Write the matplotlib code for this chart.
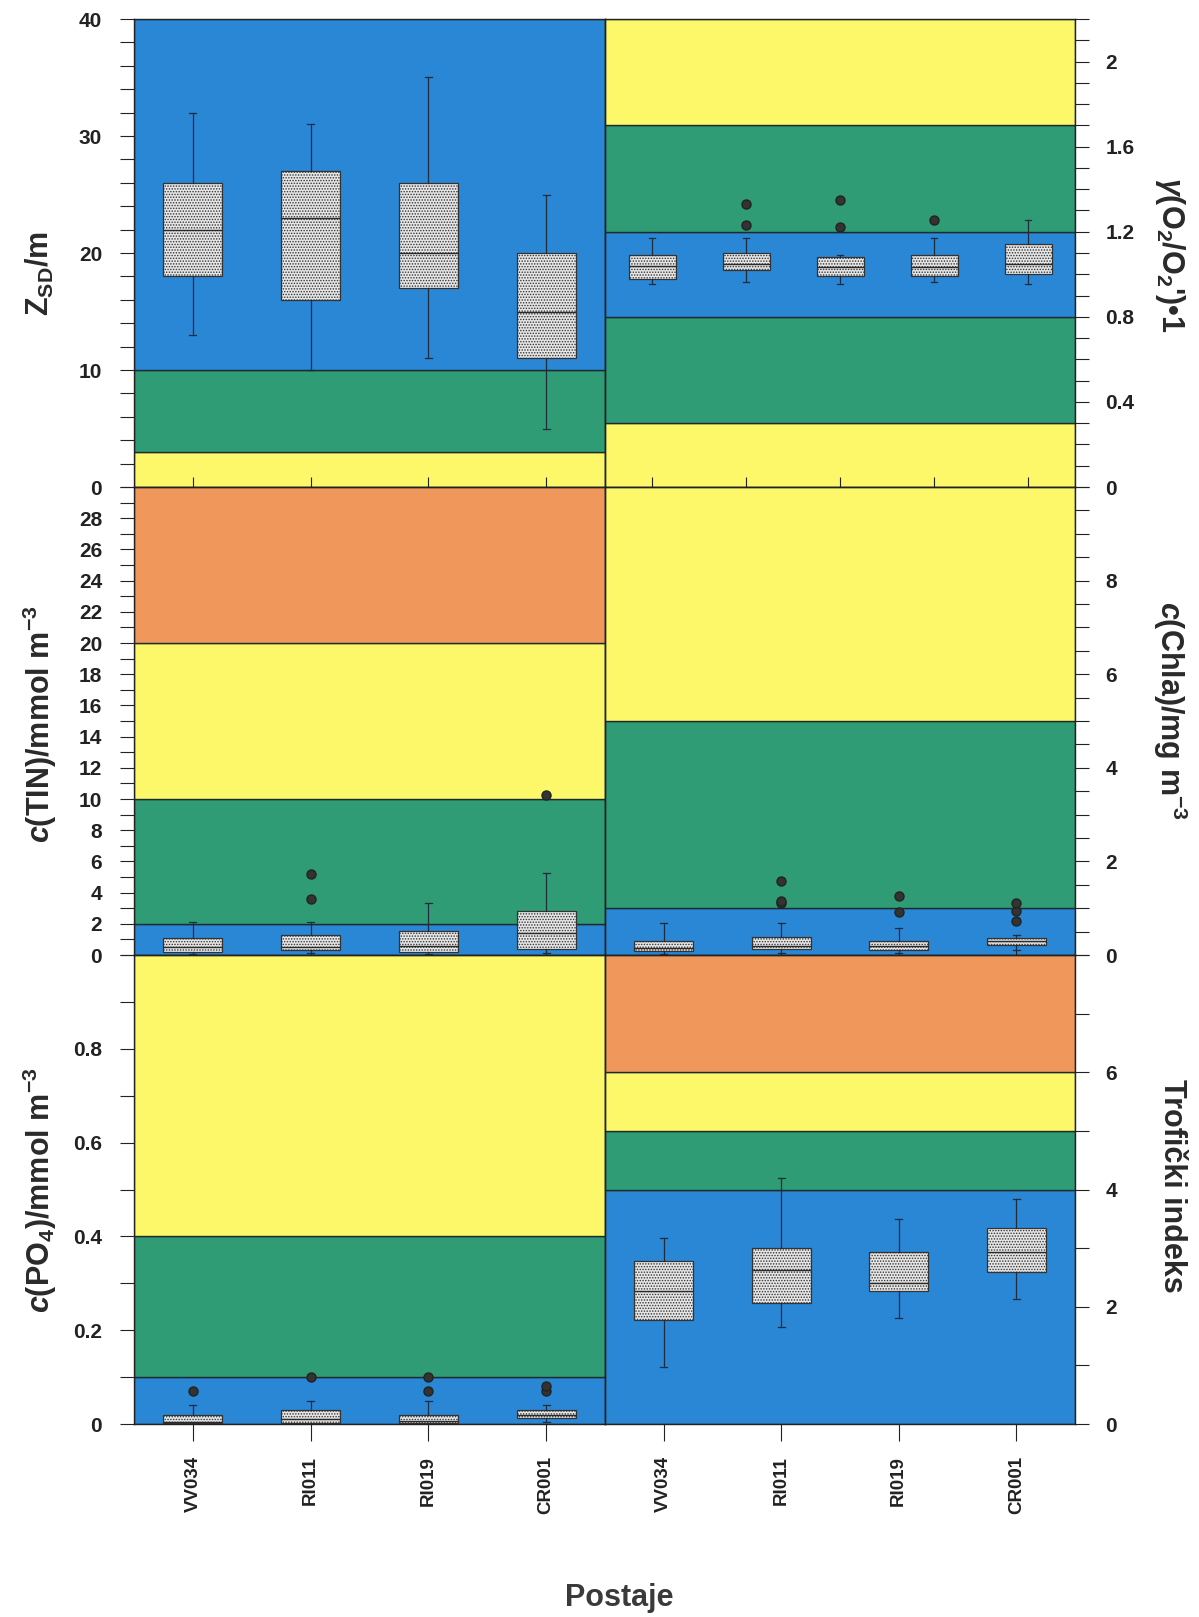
import matplotlib.pyplot as plt
from matplotlib.ticker import MultipleLocator, FormatStrFormatter

plt.rcParams['font.family'] = ['Liberation Sans', 'DejaVu Sans']
plt.rcParams['font.weight'] = 'bold'
plt.rcParams['mathtext.fontset'] = 'custom'
plt.rcParams['mathtext.rm'] = 'Liberation Sans:bold'
plt.rcParams['mathtext.it'] = 'Liberation Sans:italic:bold'
plt.rcParams['mathtext.bf'] = 'Liberation Sans:bold'
plt.rcParams['mathtext.default'] = 'rm'
plt.rcParams['hatch.linewidth'] = 0.7

stations = ['VV034', 'RI011', 'RI019', 'CR001']

# Secchi depth (m)
zsd_lo = [13, 10, 11, 5]
zsd_q1 = [18, 16, 17, 11]
zsd_med = [22, 23, 20, 15]
zsd_q3 = [26, 27, 26, 20]
zsd_hi = [32, 31, 35, 25]
zsd_out = [[], [], [], []]

# oxygen saturation, five boxes
o2_lo = [0.954, 0.963, 0.954, 0.963, 0.954]
o2_q1 = [0.98, 1.02, 0.993, 0.993, 1.002]
o2_med = [1.037, 1.05, 1.034, 1.034, 1.05]
o2_q3 = [1.09, 1.10, 1.08, 1.09, 1.142]
o2_hi = [1.17, 1.17, 1.09, 1.17, 1.253]
o2_out = [[], [1.23, 1.33], [1.22, 1.35], [1.253], []]

# total inorganic nitrogen
tin_lo = [0.05, 0.1, 0.05, 0.1]
tin_q1 = [0.17, 0.32, 0.21, 0.38]
tin_med = [0.49, 0.49, 0.6, 1.43]
tin_q3 = [1.07, 1.28, 1.54, 2.84]
tin_hi = [2.14, 2.14, 3.35, 5.23]
tin_out = [[], [3.57, 5.17], [], [10.26]]

# chlorophyll a
chla_lo = [0.03, 0.05, 0.04, 0.1]
chla_q1 = [0.086, 0.12, 0.10, 0.21]
chla_med = [0.15, 0.2, 0.2, 0.3]
chla_q3 = [0.30, 0.39, 0.30, 0.36]
chla_hi = [0.69, 0.68, 0.57, 0.43]
chla_out = [[], [1.12, 1.15, 1.59], [0.91, 1.26], [0.73, 0.93, 1.12]]

# phosphate
po4_lo = [0.0, 0.0, 0.0, 0.005]
po4_q1 = [0.002, 0.002, 0.002, 0.012]
po4_med = [0.005, 0.01, 0.006, 0.02]
po4_q3 = [0.019, 0.03, 0.019, 0.03]
po4_hi = [0.04, 0.05, 0.05, 0.04]
po4_out = [[0.07], [0.10], [0.07, 0.10], [0.07, 0.08]]

# trophic index
trix_lo = [0.97, 1.66, 1.81, 2.13]
trix_q1 = [1.77, 2.07, 2.27, 2.60]
trix_med = [2.27, 2.63, 2.41, 2.94]
trix_q3 = [2.78, 3.01, 2.94, 3.34]
trix_hi = [3.18, 4.19, 3.50, 3.84]
trix_out = [[], [], [], []]

blue = '#2a87d6'
green = '#309c76'
yellow = '#fdf76a'
orange = '#f0975b'

zsd_edges = [0, 3, 10, 40]
zsd_cols = [yellow, green, blue]
o2_edges = [0, 0.3, 0.8, 1.2, 1.7, 2.2]
o2_cols = [yellow, green, blue, green, yellow]
tin_edges = [0, 2, 10, 20, 30]
tin_cols = [blue, green, yellow, orange]
chla_edges = [0, 1, 5, 10]
chla_cols = [blue, green, yellow]
po4_edges = [0, 0.1, 0.4, 1.0]
po4_cols = [blue, green, yellow]
trix_edges = [0, 4, 5, 6, 8]
trix_cols = [blue, green, yellow, orange]


def make_stats(lo, q1, med, q3, hi, out):
    return [dict(whislo=a, q1=b, med=c, q3=d, whishi=e, fliers=f)
            for a, b, c, d, e, f in zip(lo, q1, med, q3, hi, out)]


def panel(ax, stats, edges, cols, minor, labelled, side):
    for y0, y1, c in zip(edges[:-1], edges[1:], cols):
        ax.axhspan(y0, y1, facecolor=c, edgecolor='#1e2b2b', lw=1.0, zorder=0)
    n = len(stats)
    bp = ax.bxp(stats, positions=range(1, n + 1), widths=0.5, patch_artist=True,
                showfliers=True, capwidths=0.06,
                boxprops=dict(facecolor='#e6e6e6', edgecolor='#333333', lw=0.9, hatch='......'),
                medianprops=dict(color='#2a2a2a', lw=1.0),
                whiskerprops=dict(color='#1f2d3a', lw=0.9),
                capprops=dict(color='#1f2d3a', lw=0.9),
                flierprops=dict(marker='o', markerfacecolor='#333333',
                                markeredgecolor='#222222', markersize=6.5))
    for k in bp:
        for a in bp[k]:
            a.set_zorder(3)
    ax.set_xlim(0.5, n + 0.5)
    ax.set_ylim(edges[0], edges[-1])
    ax.set_yticks(labelled)
    ax.yaxis.set_major_formatter(FormatStrFormatter('%g'))
    ax.yaxis.set_minor_locator(MultipleLocator(minor))
    if side == 'right':
        ax.yaxis.tick_right()
        pad = 12
    else:
        pad = 13
    ax.tick_params(axis='y', which='both', direction='out', length=10, width=0.8,
                   pad=pad, labelsize=15, colors='#222222')
    for s in ax.spines.values():
        s.set_color('#222222')
        s.set_linewidth(1.0)
        s.set_zorder(4)


fig = plt.figure(figsize=(11.99, 16.17), dpi=100)
W, H = 1199, 1617
xl, xm, xr = 134, 605, 1075
rows = [(19, 487), (487, 955), (955, 1424)]


def add_ax(x0, x1, r):
    t, b = rows[r]
    return fig.add_axes([x0 / W, 1 - b / H, (x1 - x0) / W, (b - t) / H])


ax1 = add_ax(xl, xm, 0)
ax2 = add_ax(xm, xr, 0)
ax3 = add_ax(xl, xm, 1)
ax4 = add_ax(xm, xr, 1)
ax5 = add_ax(xl, xm, 2)
ax6 = add_ax(xm, xr, 2)

panel(ax1, make_stats(zsd_lo, zsd_q1, zsd_med, zsd_q3, zsd_hi, zsd_out),
      zsd_edges, zsd_cols, 2, [0, 10, 20, 30, 40], 'left')
panel(ax2, make_stats(o2_lo, o2_q1, o2_med, o2_q3, o2_hi, o2_out),
      o2_edges, o2_cols, 0.1, [0, 0.4, 0.8, 1.2, 1.6, 2.0], 'right')
panel(ax3, make_stats(tin_lo, tin_q1, tin_med, tin_q3, tin_hi, tin_out),
      tin_edges, tin_cols, 1, list(range(0, 29, 2)), 'left')
panel(ax4, make_stats(chla_lo, chla_q1, chla_med, chla_q3, chla_hi, chla_out),
      chla_edges, chla_cols, 0.5, [0, 2, 4, 6, 8], 'right')
panel(ax5, make_stats(po4_lo, po4_q1, po4_med, po4_q3, po4_hi, po4_out),
      po4_edges, po4_cols, 0.1, [0, 0.2, 0.4, 0.6, 0.8], 'left')
panel(ax6, make_stats(trix_lo, trix_q1, trix_med, trix_q3, trix_hi, trix_out),
      trix_edges, trix_cols, 1, [0, 2, 4, 6], 'right')

for ax in [ax1, ax2, ax3, ax4]:
    ax.tick_params(axis='x', direction='inout', length=14, width=0.8,
                   labelbottom=False, colors='#222222')
for ax in [ax5, ax6]:
    ax.tick_params(axis='x', direction='out', length=12, width=0.8,
                   labelsize=13.5, pad=11, colors='#222222')
    ax.set_xticks(range(1, 5))
    ax.set_xticklabels(stations, rotation=90)
    for lab in ax.get_xticklabels():
        lab.set_va('top')

lab_kw = dict(fontsize=22, fontweight='bold', color='#2a2a2a', ha='center', va='center')
fig.text(40 / W, 1 - 273 / H, r'Z$_{\mathrm{SD}}$/m', rotation=90, **lab_kw)
fig.text(1170 / W, 1 - 255 / H, r"$\mathit{γ}$(O$_2$/O$_2$')•1", rotation=-90, **lab_kw)
fig.text(40 / W, 1 - 724 / H, r'$\mathit{c}$(TIN)/mmol m$^{-3}$', rotation=90, **lab_kw)
fig.text(1170 / W, 1 - 711 / H, r'$\mathit{c}$(Chla)/mg m$^{-3}$', rotation=-90, **lab_kw)
fig.text(40 / W, 1 - 1190 / H, r'$\mathit{c}$(PO$_4$)/mmol m$^{-3}$', rotation=90, **lab_kw)
fig.text(1172 / W, 1 - 1186 / H, 'Trofički indeks', rotation=-90, **lab_kw)
fig.text(619 / W, 1 - 1598 / H, 'Postaje', fontsize=22, fontweight='bold',
         color='#3a3a3a', ha='center', va='center')

fig.savefig('out.png', dpi=100)
